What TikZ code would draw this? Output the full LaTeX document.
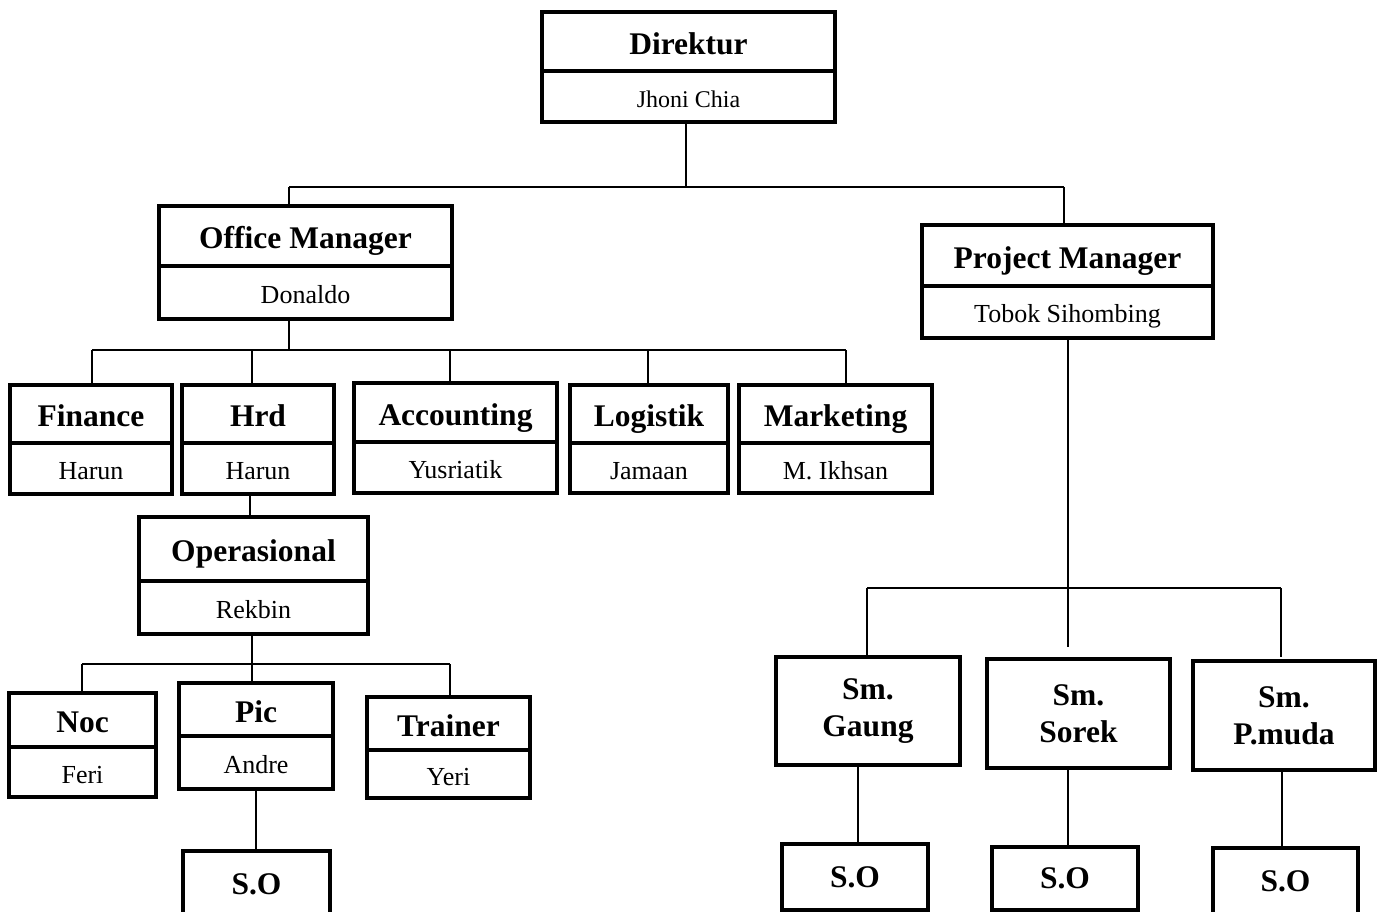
\documentclass[tikz,border=0pt]{standalone}
\usepackage{fontspec}
\setmainfont{Liberation Serif}
\newcommand{\tfont}{\fontsize{31.5}{37}\selectfont\bfseries}
\newcommand{\nfont}{\fontsize{26}{30}\selectfont}
\tikzset{
  cell/.style={draw=black, line width=3.2pt, rectangle, inner sep=0pt, outer sep=0pt, anchor=north west, align=center, fill=white},
  titlecell/.style={cell, font=\tfont},
  namecell/.style={cell, font=\nfont, text height=22pt, text depth=0pt},
  conn/.style={draw=black, line width=1.7pt}
}
% #1 name, #2 x1, #3 x2, #4 ytop, #5 ydiv, #6 ybot, #7 title, #8 person
\newcommand{\twobox}[8]{%
  \pgfmathsetmacro\tbWidth{#3-#2}%
  \pgfmathsetmacro\tbHa{#5-#4}%
  \pgfmathsetmacro\tbHb{#6-#5}%
  \node[titlecell, text height=25.5pt, text depth=0pt, minimum width=\tbWidth pt, minimum height=\tbHa pt] (#1) at (#2,#4) {#7};%
  \node[namecell, minimum width=\tbWidth pt, minimum height=\tbHb pt] (#1n) at (#2,#5) {#8};%
}
% #1 name, #2 x1, #3 x2, #4 ytop, #5 ybot, #6 text
\newcommand{\onebox}[6]{%
  \pgfmathsetmacro\tbWidth{#3-#2}%
  \pgfmathsetmacro\tbHa{#5-#4}%
  \node[titlecell, minimum width=\tbWidth pt, minimum height=\tbHa pt] (#1) at (#2,#4) {#6};%
}
\begin{document}
\begin{tikzpicture}[x=1pt, y=-1pt]
\useasboundingbox (0,0) rectangle (1382,912);
\fill[white] (0,0) rectangle (1382,912);

% bus coordinates
\coordinate (d0) at (686,187);
\coordinate (dL) at (289,187);
\coordinate (dR) at (1064,187);
\coordinate (o0) at (289,350);
\coordinate (oF) at (92,350);
\coordinate (oH) at (252,350);
\coordinate (oA) at (450,350);
\coordinate (oL) at (648,350);
\coordinate (oM) at (846,350);
\coordinate (h0) at (250,517);
\coordinate (p0) at (252,664);
\coordinate (pN) at (82,664);
\coordinate (pP) at (252,664);
\coordinate (pT) at (450,664);
\coordinate (q0) at (1068,588);
\coordinate (qG) at (867,588);
\coordinate (qS) at (1068,588);
\coordinate (qSe) at (1068,647);
\coordinate (qP) at (1281,588);
\coordinate (qPe) at (1281,657);
\coordinate (s1) at (256,789);
\coordinate (s2) at (858,765);
\coordinate (s3) at (1068,768);
\coordinate (s4) at (1282,770);

% boxes
\twobox{dir}{542}{835}{12}{71}{122}{Direktur}{\fontsize{24}{28}\selectfont Jhoni Chia}
\twobox{om}{159}{452}{206}{266}{319}{Office Manager}{Donaldo}
\twobox{pm}{922}{1213}{225}{286}{338}{Project Manager}{Tobok Sihombing}
\twobox{fin}{10}{172}{385}{443}{494}{Finance}{Harun}
\twobox{hrd}{182}{334}{385}{443}{494}{Hrd}{Harun}
\twobox{acc}{354}{557}{383}{442}{493}{Accounting}{Yusriatik}
\twobox{log}{570}{728}{385}{443}{493}{Logistik}{Jamaan}
\twobox{mkt}{739}{932}{385}{443}{493}{Marketing}{M. Ikhsan}
\twobox{ops}{139}{368}{517}{581}{634}{Operasional}{Rekbin}
\twobox{noc}{9}{156}{693}{747}{797}{Noc}{Feri}
\twobox{pic}{179}{333}{683}{736}{789}{Pic}{Andre}
\twobox{trn}{367}{530}{697}{750}{798}{Trainer}{Yeri}
\onebox{so1}{183}{330}{851}{917}{S.O}
\onebox{gau}{776}{960}{657}{765}{Sm.\\Gaung}
\onebox{sor}{987}{1170}{659}{768}{Sm.\\Sorek}
\onebox{pmu}{1193}{1375}{661}{770}{Sm.\\P.muda}
\onebox{so2}{782}{928}{844}{910}{S.O}
\onebox{so3}{992}{1138}{847}{910}{S.O}
\onebox{so4}{1213}{1358}{848}{915}{S.O}

% connectors
\draw[conn] (d0 |- dirn.south) -- (d0);
\draw[conn] (dL) -- (dR);
\draw[conn] (o0 |- omn.south) -- (o0);
\draw[conn] (oF) -- (oM);
\draw[conn] (p0 |- opsn.south) -- (p0);
\draw[conn] (pN) -- (pT);
\draw[conn] (q0 |- pmn.south) -- (q0);
\draw[conn] (qG) -- (qP);
\draw[conn] (qS) -- (qSe);

\draw[conn] (dL) -- (dL |- om.north);
\draw[conn] (dR) -- (dR |- pm.north);
\draw[conn] (oF) -- (oF |- fin.north);
\draw[conn] (oH) -- (oH |- hrd.north);
\draw[conn] (oA) -- (oA |- acc.north);
\draw[conn] (oL) -- (oL |- log.north);
\draw[conn] (oM) -- (oM |- mkt.north);
\draw[conn] (h0 |- hrdn.south) -- (h0 |- ops.north);
\draw[conn] (pN) -- (pN |- noc.north);
\draw[conn] (pP) -- (pP |- pic.north);
\draw[conn] (pT) -- (pT |- trn.north);
\draw[conn] (qG) -- (qG |- gau.north);
\draw[conn] (qP) -- (qPe);
\draw[conn] (s1 |- picn.south) -- (s1 |- so1.north);
\draw[conn] (s2 |- gau.south) -- (s2 |- so2.north);
\draw[conn] (s3 |- sor.south) -- (s3 |- so3.north);
\draw[conn] (s4 |- pmu.south) -- (s4 |- so4.north);
\end{tikzpicture}
\end{document}
